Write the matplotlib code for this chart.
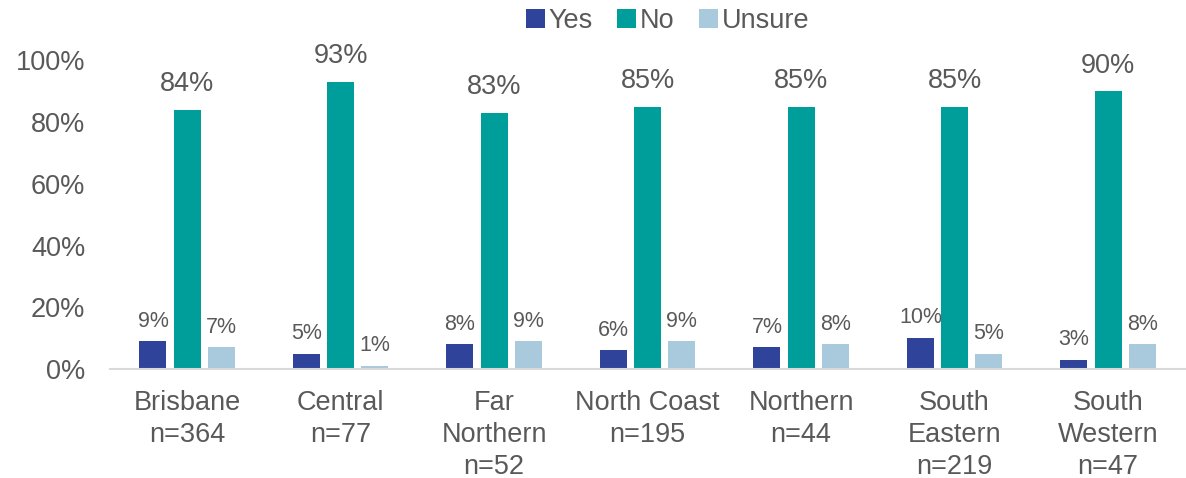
import numpy as np
from matplotlib import pyplot as plt

plt.rcParams["font.family"] = ["Liberation Sans", "DejaVu Sans"]

regions = ["Brisbane\nn=364", "Central\nn=77", "Far\nNorthern\nn=52", "North Coast\nn=195",
           "Northern\nn=44", "South\nEastern\nn=219", "South\nWestern\nn=47"]
yes = [9, 5, 8, 6, 7, 10, 3]
no = [84, 93, 83, 85, 85, 85, 90]
unsure = [7, 1, 9, 9, 8, 5, 8]

text_col = "#595959"
colors = {"Yes": "#2E4399", "No": "#009E9A", "Unsure": "#A9C9DC"}

fig = plt.figure(figsize=(11.86, 4.78), dpi=100)
ax = fig.add_axes([0.093, 0.228, 0.906, 0.646])

x = np.arange(len(regions))
w = 0.176
step = 0.222

series = [("Yes", yes, -step), ("No", no, 0), ("Unsure", unsure, step)]
for name, vals, off in series:
    bars = ax.bar(x + off, np.array(vals) / 100, width=w, color=colors[name], label=name)
    size = 19.5 if name == "No" else 15.5
    pad = 9 if name == "No" else 7
    for b, v in zip(bars, vals):
        ax.annotate(f"{v}%", xy=(b.get_x() + b.get_width() / 2, b.get_height()),
                    xytext=(0, pad), textcoords="offset points", ha="center", va="bottom",
                    fontsize=size, color=text_col, annotation_clip=False)

ax.set_xlim(-0.5, 6.5)
ax.set_ylim(0, 1)
ax.set_yticks(np.arange(0, 1.01, 0.2))
ax.set_yticklabels([f"{int(round(t * 100))}%" for t in np.arange(0, 1.01, 0.2)])
ax.set_xticks(x)
ax.set_xticklabels(regions, linespacing=1.3)
ax.tick_params(axis="both", length=0, labelsize=19.5, colors=text_col)
ax.tick_params(axis="x", pad=15)
ax.tick_params(axis="y", pad=18)
for s in ["top", "right", "left"]:
    ax.spines[s].set_visible(False)
ax.spines["bottom"].set_color("#D9D9D9")
ax.spines["bottom"].set_linewidth(1.5)

leg = fig.legend(loc="upper center", bbox_to_anchor=(0.563, 1.035), ncol=3, frameon=False,
                 fontsize=19.5, handlelength=0.7, handleheight=0.7, handletextpad=0.15,
                 columnspacing=0.9)
for t in leg.get_texts():
    t.set_color(text_col)

plt.savefig("out.png", dpi=100)
